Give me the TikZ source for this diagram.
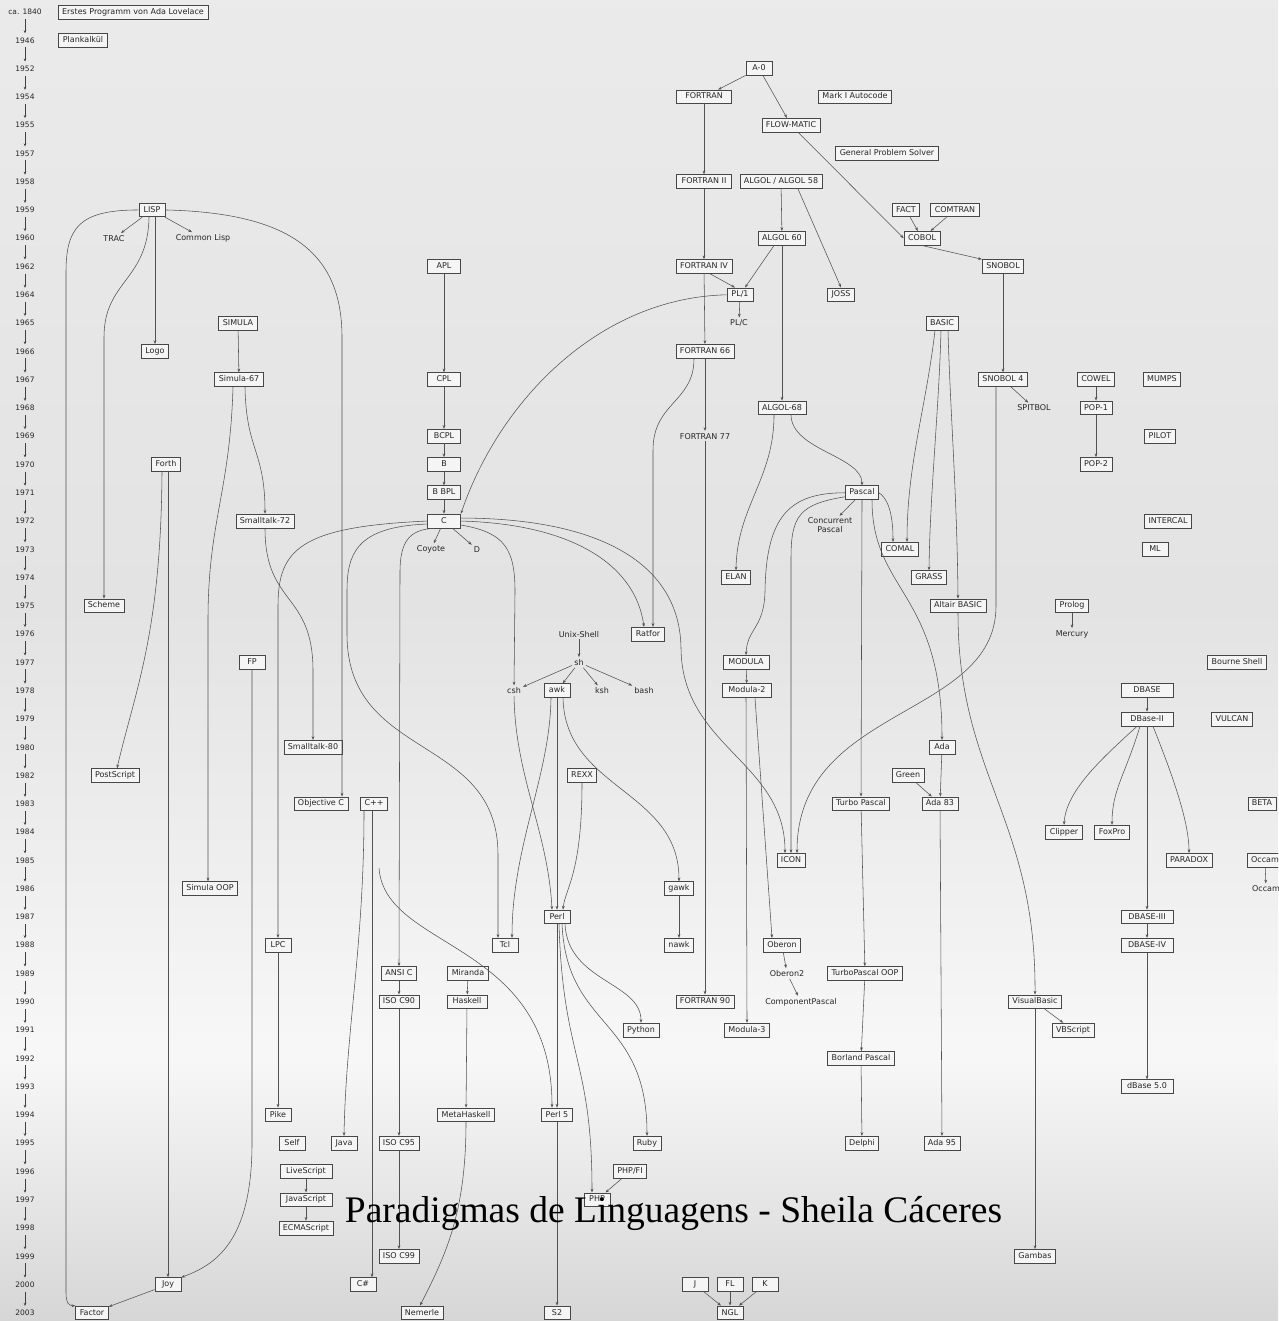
\documentclass[tikz,border=0pt]{standalone}
\usepackage{fontspec}
\setsansfont{DejaVu Sans}
\newfontfamily\titlefont{Liberation Serif}
\usetikzlibrary{arrows.meta}

\pgfdeclareverticalshading{paper}{100bp}{color(0bp)=(black!16); color(25bp)=(black!16); color(35bp)=(black!3); color(52bp)=(black!11); color(75bp)=(black!8); color(100bp)=(black!8)}

\tikzset{
  lang/.style={draw=black!72, line width=0.75pt, fill=black!4, text=black!85,
    font=\sffamily\fontsize{8}{9}\selectfont, inner xsep=4pt, inner ysep=3pt,
    text height=6pt, text depth=1.8pt, minimum width=26pt},
  lbl/.style={text=black!85, font=\sffamily\fontsize{8}{9}\selectfont, inner sep=2pt},
  yearlbl/.style={text=black!85, font=\sffamily\fontsize{7.5}{9}\selectfont, inner sep=3pt},
  link/.style={draw=black!68, line width=0.55pt, -{Stealth[length=3.8pt,width=2.8pt]}},
  yeartick/.style={draw=black!75, line width=0.55pt, shorten <=1pt, shorten >=1pt,
    -{Stealth[length=3pt,width=2.6pt]}},
}

\begin{document}
\begin{tikzpicture}[x=1pt, y=-28.28pt]
  \useasboundingbox (0,-0.4243) rectangle (1278,46.287);
  \clip (0,-0.4243) rectangle (1278,46.287);
  \shade[shading=paper] (0,-0.4243) rectangle (1278,46.287);

  % years
  \foreach \yr [count=\i from 0] in {ca. 1840,1946,1952,1954,1955,1957,1958,1959,1960,1962,1964,1965,1966,1967,1968,1969,1970,1971,1972,1973,1974,1975,1976,1977,1978,1979,1980,1982,1983,1984,1985,1986,1987,1988,1989,1990,1991,1992,1993,1994,1995,1996,1997,1998,1999,2000,2003}
    \node[yearlbl] (y\i) at (25,\i) {\yr};
  \foreach \i [evaluate=\i as \j using int(\i+1)] in {0,...,45}
    \draw[yeartick] (y\i) -- (y\j);

  % languages
  \node[lang] (lovelace) at (133,0) {Erstes Programm von Ada Lovelace};
  \node[lang] (plankalkul) at (83,1) {Plankalkül};
  \node[lang] (a0) at (759,2) {A-0};
  \node[lang, minimum width=55pt] (fortran) at (704,3) {FORTRAN};
  \node[lang] (autocode) at (855,3) {Mark I Autocode};
  \node[lang] (flowmatic) at (791,4) {FLOW-MATIC};
  \node[lang] (gps) at (887,5) {General Problem Solver};
  \node[lang, minimum width=55pt] (fortran2) at (704,6) {FORTRAN II};
  \node[lang] (algol58) at (781,6) {ALGOL / ALGOL 58};
  \node[lang] (lisp) at (152,7) {LISP};
  \node[lang] (fact) at (906,7) {FACT};
  \node[lang] (comtran) at (955,7) {COMTRAN};
  \node[lbl] (trac) at (114,8) {TRAC};
  \node[lbl] (clisp) at (203,8) {Common Lisp};
  \node[lang, minimum width=45pt] (algol60) at (782,8) {ALGOL 60};
  \node[lang] (cobol) at (922,8) {COBOL};
  \node[lang, minimum width=33pt] (apl) at (444,9) {APL};
  \node[lang, minimum width=55pt] (fortran4) at (704,9) {FORTRAN IV};
  \node[lang] (snobol) at (1003,9) {SNOBOL};
  \node[lang] (pl1) at (740,10) {PL/1};
  \node[lang] (joss) at (841,10) {JOSS};
  \node[lang] (simula) at (238,11) {SIMULA};
  \node[lbl] (plc) at (739,11) {PL/C};
  \node[lang] (basic) at (942,11) {BASIC};
  \node[lang] (logo) at (155,12) {Logo};
  \node[lang, minimum width=58pt] (fortran66) at (705,12) {FORTRAN 66};
  \node[lang] (simula67) at (239,13) {Simula-67};
  \node[lang, minimum width=33pt] (cpl) at (444,13) {CPL};
  \node[lang] (snobol4) at (1003,13) {SNOBOL 4};
  \node[lang] (cowel) at (1096,13) {COWEL};
  \node[lang] (mumps) at (1162,13) {MUMPS};
  \node[lang, minimum width=45pt] (algol68) at (782,14) {ALGOL-68};
  \node[lbl] (spitbol) at (1034,14) {SPITBOL};
  \node[lang] (pop1) at (1096,14) {POP-1};
  \node[lang, minimum width=33pt] (bcpl) at (444,15) {BCPL};
  \node[lbl] (fortran77) at (705,15) {FORTRAN 77};
  \node[lang] (pilot) at (1160,15) {PILOT};
  \node[lang] (forth) at (166,16) {Forth};
  \node[lang, minimum width=33pt] (b) at (444,16) {B};
  \node[lang] (pop2) at (1096,16) {POP-2};
  \node[lang, minimum width=33pt] (bbpl) at (444,17) {B BPL};
  \node[lang] (pascal) at (862,17) {Pascal};
  \node[lang] (smalltalk72) at (265,18) {Smalltalk-72};
  \node[lang, minimum width=33pt] (c) at (444,18) {C};
  \node[lbl, align=center] (concpascal) at (830,18.16) {Concurrent\\Pascal};
  \node[lang] (intercal) at (1168,18) {INTERCAL};
  \node[lbl] (coyote) at (431,19) {Coyote};
  \node[lbl] (d) at (477,19) {D};
  \node[lang] (comal) at (900,19) {COMAL};
  \node[lang] (ml) at (1155,19) {ML};
  \node[lang] (elan) at (736,20) {ELAN};
  \node[lang] (grass) at (929,20) {GRASS};
  \node[lang] (scheme) at (104,21) {Scheme};
  \node[lang] (altair) at (958,21) {Altair BASIC};
  \node[lang] (prolog) at (1072,21) {Prolog};
  \node[lbl] (unixshell) at (579,22) {Unix-Shell};
  \node[lang] (ratfor) at (648,22) {Ratfor};
  \node[lbl] (mercury) at (1072,22) {Mercury};
  \node[lang] (fp) at (252,23) {FP};
  \node[lbl] (sh) at (579,23) {sh};
  \node[lang, minimum width=46pt] (modula) at (746,23) {MODULA};
  \node[lang] (bourne) at (1237,23) {Bourne Shell};
  \node[lbl] (csh) at (514,24) {csh};
  \node[lang] (awk) at (557,24) {awk};
  \node[lbl] (ksh) at (602,24) {ksh};
  \node[lbl] (bash) at (644,24) {bash};
  \node[lang, minimum width=49pt] (modula2) at (747,24) {Modula-2};
  \node[lang, minimum width=52pt] (dbase) at (1147,24) {DBASE};
  \node[lang, minimum width=52pt] (dbase2) at (1147,25) {DBase-II};
  \node[lang] (vulcan) at (1232,25) {VULCAN};
  \node[lang] (smalltalk80) at (313,26) {Smalltalk-80};
  \node[lang] (ada) at (942,26) {Ada};
  \node[lang] (postscript) at (115,27) {PostScript};
  \node[lang] (rexx) at (582,27) {REXX};
  \node[lang] (green) at (908,27) {Green};
  \node[lang] (objc) at (321,28) {Objective C};
  \node[lang] (cpp) at (374,28) {C++};
  \node[lang] (turbopascal) at (861,28) {Turbo Pascal};
  \node[lang] (ada83) at (940,28) {Ada 83};
  \node[lang] (beta) at (1262,28) {BETA};
  \node[lang] (clipper) at (1064,29) {Clipper};
  \node[lang] (foxpro) at (1112,29) {FoxPro};
  \node[lang] (icon) at (791,30) {ICON};
  \node[lang] (paradox) at (1189,30) {PARADOX};
  \node[lang] (occam) at (1265,30) {Occam};
  \node[lang] (simulaoop) at (210,31) {Simula OOP};
  \node[lang] (gawk) at (679,31) {gawk};
  \node[lbl] (occamlbl) at (1266,31) {Occam};
  \node[lang] (perl) at (557,32) {Perl};
  \node[lang, minimum width=52pt] (dbase3) at (1147,32) {DBASE-III};
  \node[lang] (lpc) at (278,33) {LPC};
  \node[lang] (tcl) at (505,33) {Tcl};
  \node[lang] (nawk) at (679,33) {nawk};
  \node[lang] (oberon) at (782,33) {Oberon};
  \node[lang, minimum width=52pt] (dbase4) at (1147,33) {DBASE-IV};
  \node[lang] (ansic) at (399,34) {ANSI C};
  \node[lang, minimum width=40pt] (miranda) at (468,34) {Miranda};
  \node[lbl] (oberon2) at (787,34) {Oberon2};
  \node[lang] (tpoop) at (865,34) {TurboPascal OOP};
  \node[lang] (isoc90) at (399,35) {ISO C90};
  \node[lang, minimum width=40pt] (haskell) at (467,35) {Haskell};
  \node[lang, minimum width=58pt] (fortran90) at (705,35) {FORTRAN 90};
  \node[lbl] (comppascal) at (801,35) {ComponentPascal};
  \node[lang] (visualbasic) at (1035,35) {VisualBasic};
  \node[lang] (python) at (641,36) {Python};
  \node[lang] (modula3) at (747,36) {Modula-3};
  \node[lang] (vbscript) at (1073,36) {VBScript};
  \node[lang] (borland) at (861,37) {Borland Pascal};
  \node[lang, minimum width=52pt] (dbase5) at (1147,38) {dBase 5.0};
  \node[lang] (pike) at (278,39) {Pike};
  \node[lang] (metahaskell) at (466,39) {MetaHaskell};
  \node[lang] (perl5) at (557,39) {Perl 5};
  \node[lang] (self) at (292,40) {Self};
  \node[lang] (java) at (344,40) {Java};
  \node[lang] (isoc95) at (399,40) {ISO C95};
  \node[lang] (ruby) at (647,40) {Ruby};
  \node[lang] (delphi) at (862,40) {Delphi};
  \node[lang] (ada95) at (942,40) {Ada 95};
  \node[lang, minimum width=52pt] (livescript) at (306,41) {LiveScript};
  \node[lang] (phpfi) at (630,41) {PHP/FI};
  \node[lang, minimum width=52pt] (javascript) at (306,42) {JavaScript};
  \node[lang] (php) at (597,42) {PHP};
  \node[lang] (ecmascript) at (306,43) {ECMAScript};
  \node[lang] (isoc99) at (399,44) {ISO C99};
  \node[lang] (gambas) at (1035,44) {Gambas};
  \node[lang] (joy) at (168,45) {Joy};
  \node[lang] (csharp) at (363,45) {C\#};
  \node[lang] (j) at (695,45) {J};
  \node[lang] (fl) at (730,45) {FL};
  \node[lang] (k) at (765,45) {K};
  \node[lang] (factor) at (92,46) {Factor};
  \node[lang] (nemerle) at (422,46) {Nemerle};
  \node[lang] (s2) at (557,46) {S2};
  \node[lang] (ngl) at (730,46) {NGL};
  \coordinate (cppstub) at (379,30.27);

  % links
  \draw[link] (a0) -- (fortran);
  \draw[link] (a0) -- (flowmatic);
  \draw[link] (fortran) -- (fortran2);
  \draw[link] (fortran2) -- (fortran4);
  \draw[link] (fortran4) -- (fortran66);
  \draw[link] (fortran66) -- (fortran77);
  \draw[link] (fortran77) -- (fortran90);
  \draw[link] ([xshift=6pt]fortran4.south) -- ([xshift=-5pt]pl1.north);
  \draw[link] ([xshift=-8pt]algol60.south) -- ([xshift=5pt]pl1.north);
  \draw[link] (algol58) -- (algol60);
  \draw[link] ([xshift=17pt]algol58.south) -- (joss.north);
  \draw[link] (algol60) -- (algol68);
  \draw[link] (pl1) -- (plc);
  \draw[link] (flowmatic) -- (cobol.west);
  \draw[link] (fact) -- (cobol);
  \draw[link] (comtran) -- (cobol);
  \draw[link] (cobol.south) -- (snobol.north west);
  \draw[link] (snobol) -- (snobol4);
  \draw[link] (snobol4) -- (spitbol);
  \draw[link] (cowel) -- (pop1);
  \draw[link] (pop1) -- (pop2);
  \draw[link] (prolog) -- (mercury);
  \draw[link] (lisp) -- (trac);
  \draw[link] (lisp) -- (clisp);
  \draw[link] ([xshift=3pt]lisp.south) -- (logo.north);
  \draw[link] ([xshift=-3pt]lisp.south) .. controls (148,9.5) and (104,9.5) .. (104,11.5) -- (scheme.north);
  \draw[link] (lisp.west) .. controls (80,7) and (66,7.6) .. (66,9.2) -- (66,45.3) .. controls (66,45.7) and (70,45.75) .. (factor.north west);
  \draw[link] (lisp.east) .. controls (290,7.1) and (342,8.5) .. (342,11.5) -- ([xshift=21pt]objc.north);
  \draw[link] (simula) -- (simula67);
  \draw[link] ([xshift=-6pt]simula67.south) .. controls (230,17) and (208,18) .. (208,21.5) -- ([xshift=-2pt]simulaoop.north);
  \draw[link] ([xshift=6pt]simula67.south) .. controls (246,15.5) and (265,15.5) .. (smalltalk72.north);
  \draw[link] (smalltalk72.south) .. controls (265,21) and (313,20.5) .. (313,23.3) -- (smalltalk80.north);
  \draw[link] ([xshift=-4pt]forth.south) .. controls (161,22) and (135,24) .. ([xshift=2pt]postscript.north);
  \draw[link] ([xshift=2pt]forth.south) -- (joy.north);
  \draw[link] (fp.south) -- (252,40) .. controls (252,43.5) and (215,44.3) .. (joy.north east);
  \draw[link] (joy) -- (factor);
  \draw[link] (apl) -- (cpl);
  \draw[link] (cpl) -- (bcpl);
  \draw[link] (bcpl) -- (b);
  \draw[link] (b) -- (bbpl);
  \draw[link] (bbpl) -- (c);
  \draw[link] (pl1.west) .. controls (600,10.1) and (500,13.7) .. (c.north east);
  \draw[link] (c) -- (coyote);
  \draw[link] (c) -- (d);
  \draw[link] (c.west) .. controls (300,18.2) and (278,19) .. (278,21) -- (lpc.north);
  \draw[link] ([yshift=-3pt]c.west) .. controls (355,18.2) and (347,19.2) .. (347,20.5) -- (347,22) .. controls (347,26.5) and (498,25.5) .. (498,29.8) -- ([xshift=-7pt]tcl.north);
  \draw[link] ([xshift=-10pt]c.south) .. controls (410,18.3) and (400,18.7) .. (400,19.8) -- (ansic.north);
  \draw[link] ([yshift=-4pt]c.east) .. controls (505,18.4) and (515,19) .. (515,20.5) -- (csh.north);
  \draw[link] (c.east) .. controls (570,18.1) and (635,19.5) .. ([xshift=-4pt]ratfor.north);
  \draw[link] ([yshift=3pt]c.east) .. controls (600,17.9) and (680,19.5) .. (681,22.5) .. controls (682,26) and (785,26.5) .. ([xshift=-6pt]icon.north);
  \draw[link] ([xshift=-11pt]fortran66.south) .. controls (694,13.8) and (653,13.8) .. (653,15.5) -- ([xshift=5pt]ratfor.north);
  \draw[link] ([xshift=-8pt]algol68.south) .. controls (774,16.5) and (737,17.5) .. (elan.north);
  \draw[link] ([xshift=9pt]algol68.south) .. controls (792,15.5) and (862,15.7) .. (pascal.north);
  \draw[link] (pascal.west) .. controls (790,17) and (766,17.8) .. (765,20.5) .. controls (764,21.8) and (747,21.8) .. (modula.north);
  \draw[link] ([yshift=-4pt]pascal.west) .. controls (800,17.4) and (791,17.8) .. (791,19.3) -- (icon.north);
  \draw[link] (pascal) -- (concpascal);
  \draw[link] (pascal.east) .. controls (892,17.3) and (893,18.2) .. ([xshift=-7pt]comal.north);
  \draw[link] (pascal.south) -- (turbopascal.north);
  \draw[link] ([xshift=10pt]pascal.south) .. controls (872,20.5) and (942,20.5) .. (ada.north);
  \draw[link] ([xshift=-7pt]basic.south) .. controls (926,14) and (907,16) .. ([xshift=7pt]comal.north);
  \draw[link] ([xshift=-1pt]basic.south) .. controls (939,14) and (930,17) .. (grass.north);
  \draw[link] ([xshift=6pt]basic.south) .. controls (950,14) and (957,17) .. (altair.north);
  \draw[link] (altair.south) .. controls (958,27) and (1036,28.5) .. (visualbasic.north);
  \draw[link] ([xshift=-7pt]snobol4.south) -- (996,21) .. controls (996,25) and (797,24.5) .. ([xshift=6pt]icon.north);
  \draw[link] (modula) -- (modula2);
  \draw[link] ([xshift=-1pt]modula2.south) -- (modula3.north);
  \draw[link] ([xshift=8pt]modula2.south) -- ([xshift=-10pt]oberon.north);
  \draw[link] (oberon) -- (oberon2);
  \draw[link] (oberon2) -- (comppascal);
  \draw[link] (unixshell) -- (sh);
  \draw[link] (sh) -- (csh);
  \draw[link] (sh) -- (awk);
  \draw[link] (sh) -- (ksh);
  \draw[link] (sh) -- (bash);
  \draw[link] ([xshift=-6pt]awk.south) .. controls (550,27) and (512,29.5) .. ([xshift=7pt]tcl.north);
  \draw[link] (awk) -- (perl);
  \draw[link] (csh) .. controls (515,27) and (548,29) .. ([xshift=-5pt]perl.north);
  \draw[link] (rexx.south) .. controls (582,30.5) and (565,31) .. ([xshift=6pt]perl.north);
  \draw[link] ([xshift=6pt]awk.south) .. controls (565,27.5) and (679,27.5) .. (gawk.north);
  \draw[link] (gawk) -- (nawk);
  \draw[link] (perl) -- (perl5);
  \draw[link] ([xshift=8pt]perl.south) .. controls (568,34.3) and (641,34.3) .. (python.north);
  \draw[link] ([xshift=5pt]perl.south) .. controls (567,36) and (647,35.5) .. (ruby.north);
  \draw[link] ([xshift=2pt]perl.south) .. controls (563,37) and (592,37) .. ([xshift=-5pt]php.north);
  \draw[link] (phpfi) -- (php);
  \draw[link] (perl5) -- (s2);
  \draw[link] (miranda) -- (haskell);
  \draw[link] (haskell) -- (metahaskell);
  \draw[link] (metahaskell.south) .. controls (466,42.5) and (445,44) .. ([xshift=-2pt]nemerle.north);
  \draw[link] (ansic) -- (isoc90);
  \draw[link] (isoc90) -- (isoc95);
  \draw[link] (isoc95) -- (isoc99);
  \draw[link] (lpc) -- (pike);
  \draw[link] (livescript) -- (javascript);
  \draw[link] (javascript) -- (ecmascript);
  \draw[link] ([xshift=-10pt]cpp.south) .. controls (364,33) and (346,36) .. (java.north);
  \draw[link] ([xshift=-2pt]cpp.south) -- ([xshift=9pt]csharp.north);
  \draw[link] (cppstub) .. controls (385,33.2) and (552,32.8) .. ([xshift=-5pt]perl5.north);
  \draw[link] (j) -- (ngl);
  \draw[link] (fl) -- (ngl);
  \draw[link] (k) -- (ngl);
  \draw[link] (turbopascal) -- (tpoop);
  \draw[link] (tpoop) -- (borland);
  \draw[link] (borland) -- (delphi);
  \draw[link] (ada) -- (ada83);
  \draw[link] (ada83) -- (ada95);
  \draw[link] (green) -- (ada83);
  \draw[link] (dbase) -- (dbase2);
  \draw[link] ([xshift=-10pt]dbase2.south) .. controls (1105,26.3) and (1066,27.5) .. (clipper.north);
  \draw[link] ([xshift=-7pt]dbase2.south) .. controls (1125,27) and (1112,27.5) .. (foxpro.north);
  \draw[link] ([xshift=6pt]dbase2.south) .. controls (1168,26.6) and (1189,28.5) .. (paradox.north);
  \draw[link] (dbase2) -- (dbase3);
  \draw[link] (dbase3) -- (dbase4);
  \draw[link] (dbase4) -- (dbase5);
  \draw[link] (visualbasic) -- (vbscript);
  \draw[link] (visualbasic) -- (gambas);
  \draw[link] (occam) -- (occamlbl);

  \node[font=\titlefont\fontsize{37.5}{40}\selectfont, anchor=base, inner sep=0pt] (title) at (673.5,42.79) {Paradigmas de Linguagens - Sheila Cáceres};
\end{tikzpicture}
\end{document}
